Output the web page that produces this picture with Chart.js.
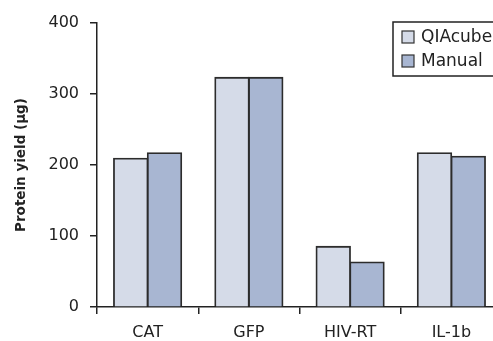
<!DOCTYPE html>
<html>
<head>
<meta charset="utf-8">
<script src="https://cdn.jsdelivr.net/npm/chart.js@4"></script>
<style>
  html, body { margin: 0; padding: 0; background: #fff; overflow: hidden; }
  #myChart { display: block; }
</style>
</head>
<body>
<canvas id="myChart" width="510" height="341"></canvas>
<script>
// data
const categories = ['CAT', 'GFP', 'HIV-RT', 'IL-1b'];
const qiacubeYield = [209, 323, 85, 217];
const manualYield = [217, 323, 63, 212];
const yTicks = [0, 100, 200, 300, 400];

const FONT = "'DejaVu Sans', sans-serif";
const INK = '#222';

// bordered legend box in the top right corner (it runs off the page edge like the original)
const boxLegend = {
  id: 'boxLegend',
  afterDraw(chart) {
    const ctx = chart.ctx;
    ctx.save();
    ctx.fillStyle = '#fff';
    ctx.fillRect(393, 22, 130, 54);
    ctx.strokeStyle = INK;
    ctx.lineWidth = 1.5;
    ctx.strokeRect(393, 22, 130, 54);
    chart.data.datasets.forEach((ds, i) => {
      const y = 31 + i * 24;
      ctx.fillStyle = ds.backgroundColor;
      ctx.fillRect(402, y, 12, 12);
      ctx.strokeStyle = '#333';
      ctx.lineWidth = 1.2;
      ctx.strokeRect(402, y, 12, 12);
      ctx.fillStyle = INK;
      ctx.font = '17px ' + FONT;
      ctx.textBaseline = 'middle';
      ctx.fillText(ds.label, 421, y + 7);
    });
    ctx.restore();
  }
};

new Chart(document.getElementById('myChart'), {
  type: 'bar',
  data: {
    labels: categories,
    datasets: [
      {
        label: 'QIAcube',
        data: qiacubeYield,
        backgroundColor: '#d5dbe8',
        borderColor: '#2c2c2c',
        borderWidth: 1.8,
        inflateAmount: 0.8,
        categoryPercentage: 0.667,
        barPercentage: 1.0
      },
      {
        label: 'Manual',
        data: manualYield,
        backgroundColor: '#a8b6d2',
        borderColor: '#2c2c2c',
        borderWidth: 1.8,
        inflateAmount: 0.8,
        categoryPercentage: 0.667,
        barPercentage: 1.0
      }
    ]
  },
  options: {
    responsive: false,
    animation: false,
    devicePixelRatio: 1,
    layout: { padding: { top: 23, right: 8, bottom: 0, left: 0 } },
    plugins: {
      legend: { display: false },
      tooltip: { enabled: false }
    },
    scales: {
      x: {
        afterFit: (scale) => { scale.height = 34; },
        grid: { display: true, drawOnChartArea: false, offset: true, tickLength: 7, color: INK, lineWidth: 1.5 },
        border: { display: true, color: INK, width: 1.5 },
        ticks: { color: INK, font: { family: FONT, size: 16 }, padding: 9 }
      },
      y: {
        min: 0,
        max: 400,
        afterFit: (scale) => { scale.width = 97; },
        afterBuildTicks: (scale) => { scale.ticks = yTicks.map(v => ({ value: v })); },
        grid: { display: true, drawOnChartArea: false, tickLength: 7, color: INK, lineWidth: 1.5 },
        border: { display: true, color: INK, width: 1.5 },
        ticks: { color: INK, font: { family: FONT, size: 16 }, padding: 11 },
        title: {
          display: true,
          text: 'Protein yield (µg)',
          color: INK,
          font: { family: FONT, size: 13.5, weight: 'bold' },
          padding: { top: 13, bottom: 0 }
        }
      }
    }
  },
  plugins: [boxLegend]
});
</script>
</body>
</html>
